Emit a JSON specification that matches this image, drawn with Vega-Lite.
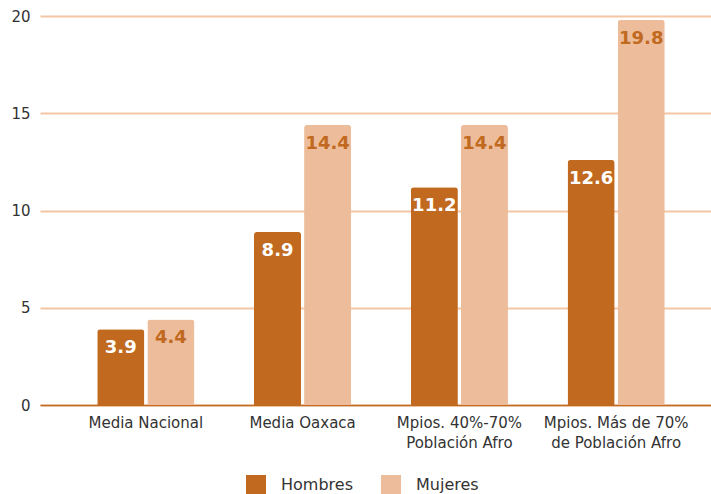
{
  "$schema": "https://vega.github.io/schema/vega-lite/v6.json",
  "width": 671,
  "height": 389,
  "autosize": {"type": "none"},
  "padding": {"left": 40, "top": 16, "right": 0, "bottom": 89},
  "background": "white",
  "config": {"view": {"stroke": null}, "font": "DejaVu Sans"},
  "data": {
    "values": [
      {"cat": "Media Nacional", "sexo": "Hombres", "valor": 3.9},
      {"cat": "Media Nacional", "sexo": "Mujeres", "valor": 4.4},
      {"cat": "Media Oaxaca", "sexo": "Hombres", "valor": 8.9},
      {"cat": "Media Oaxaca", "sexo": "Mujeres", "valor": 14.4},
      {"cat": "Mpios. 40%-70%|Población  Afro", "sexo": "Hombres", "valor": 11.2},
      {"cat": "Mpios. 40%-70%|Población  Afro", "sexo": "Mujeres", "valor": 14.4},
      {"cat": "Mpios. Más de 70%|de Población Afro", "sexo": "Hombres", "valor": 12.6},
      {"cat": "Mpios. Más de 70%|de Población Afro", "sexo": "Mujeres", "valor": 19.8}
    ]
  },
  "encoding": {
    "x": {
      "field": "cat", "type": "nominal", "sort": null,
      "scale": {"paddingInner": 0.38, "paddingOuter": 0.33, "align": 0.553},
      "axis": {
        "title": null, "labelAngle": 0, "labelExpr": "split(datum.label, '|')",
        "labelFontSize": 15, "labelColor": "#333333", "labelFont": "DejaVu Sans",
        "labelPadding": 10, "labelLineHeight": 20, "ticks": false,
        "domainColor": "#C0691F", "domainWidth": 1.5, "grid": false
      }
    },
    "xOffset": {"field": "sexo", "type": "nominal", "scale": {"paddingInner": 0.06}},
    "y": {
      "field": "valor", "type": "quantitative",
      "scale": {"domain": [0, 20]},
      "axis": {
        "title": null, "values": [0, 5, 10, 15, 20], "domain": false, "ticks": false,
        "labelFontSize": 15, "labelColor": "#333333", "labelFont": "DejaVu Sans", "labelPadding": 10,
        "gridColor": "#F4C6A4", "gridWidth": 2
      }
    }
  },
  "layer": [
    {
      "mark": {"type": "bar", "cornerRadiusTopLeft": 3, "cornerRadiusTopRight": 3},
      "encoding": {
        "color": {
          "field": "sexo", "type": "nominal",
          "scale": {"domain": ["Hombres", "Mujeres"], "range": ["#C0691F", "#EDBD9B"]},
          "legend": {
            "title": null, "orient": "none", "legendX": 206, "legendY": 459, "direction": "horizontal",
            "symbolType": "square", "symbolSize": 400, "symbolStrokeWidth": 0,
            "labelFontSize": 16, "labelColor": "#333333", "labelFont": "DejaVu Sans",
            "labelOffset": 15, "columnPadding": 28, "padding": 0
          }
        }
      }
    },
    {
      "mark": {"type": "text", "baseline": "top", "dy": 10, "fontSize": 18, "fontWeight": "bold", "font": "DejaVu Sans"},
      "encoding": {
        "text": {"field": "valor", "type": "quantitative", "format": ".1f"},
        "fill": {"condition": {"test": "datum.sexo === 'Hombres'", "value": "#FFFFFF"}, "value": "#C0691F"}
      }
    }
  ]
}
